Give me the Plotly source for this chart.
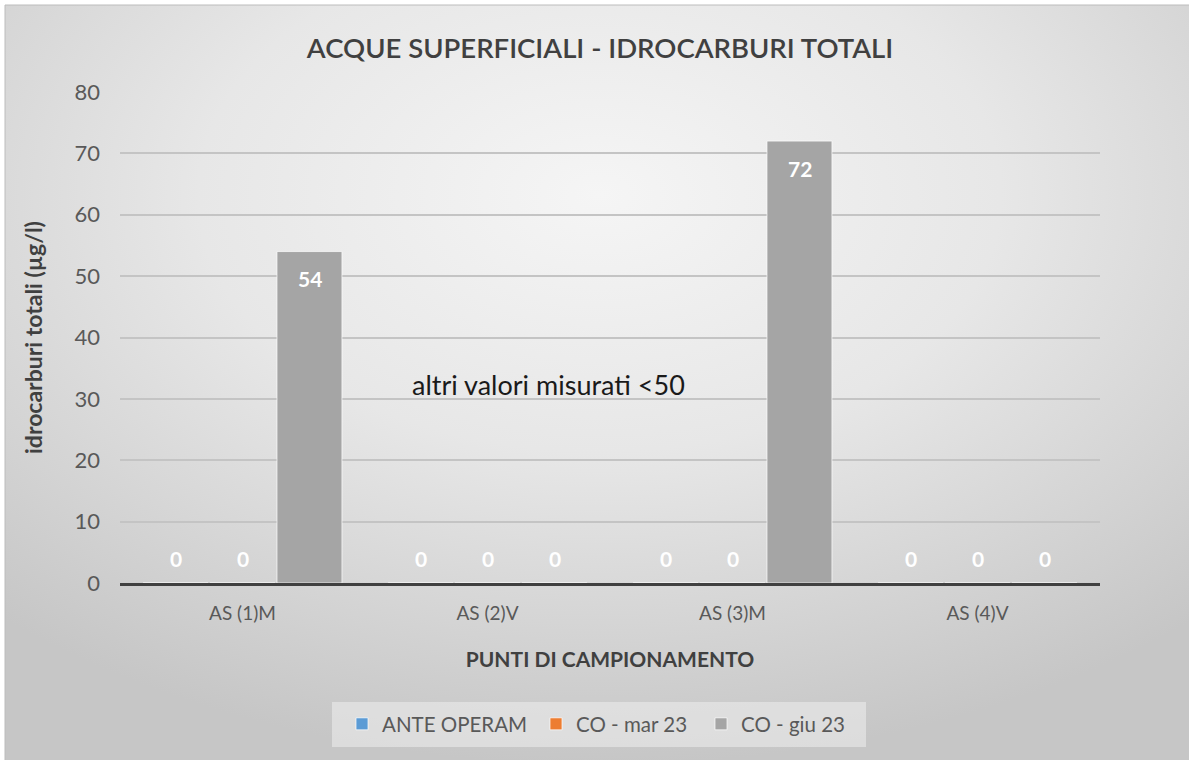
import plotly.graph_objects as go
import urllib.parse

categories = ["AS (1)M", "AS (2)V", "AS (3)M", "AS (4)V"]
series_names = ["ANTE OPERAM", "CO - mar 23", "CO - giu 23"]
ante_operam = [0, 0, 0, 0]
co_mar23 = [0, 0, 0, 0]
co_giu23 = [54, 0, 72, 0]
series_values = [ante_operam, co_mar23, co_giu23]
series_colors = ["#5b9bd5", "#ed7d31", "#a5a5a5"]
y_ticks = [0, 10, 20, 30, 40, 50, 60, 70, 80]

W, H = 1189, 760
L, R, T, B = 120, 89, 92, 177
pw, ph = W - L - R, H - T - B
FONT = "Lato"

legend_ids = ["legend", "legend2", "legend3"]
legend_left_px = [342, 536, 701]

fig = go.Figure()
for name, vals, col, lg in zip(series_names, series_values, series_colors, legend_ids):
    fig.add_trace(go.Bar(
        x=categories, y=vals, name=name, legend=lg,
        marker=dict(color=col, line=dict(color="rgba(255,255,255,0.7)", width=1)),
        hoverinfo="x+y+name",
    ))

# data labels (Excel style: inside end; zero values shown just above axis)
slot = 67
for i, vals in enumerate(series_values):
    for c, v in zip(categories, vals):
        fig.add_annotation(
            x=c, y=v, xref="x", yref="y", text=str(v), showarrow=False,
            xshift=(i - 1) * slot, yshift=(-27 if v > 0 else 25),
            font=dict(family=FONT, size=21, color="white", weight="bold"),
        )

fig.add_annotation(
    x=(410 - L) / pw, y=(583 - 384) / ph, xref="paper", yref="paper",
    xanchor="left", yanchor="middle", showarrow=False,
    text="altri valori misurati <50",
    font=dict(family=FONT, size=27, color="#1a1a1a"),
)

fig.add_annotation(
    x=(33 - L) / pw, y=(583 - 338) / ph, xref="paper", yref="paper",
    xanchor="center", yanchor="middle", showarrow=False, textangle=-90,
    text="idrocarburi totali (µg/l)",
    font=dict(family=FONT, size=23, color="#404040", weight="bold"),
)

# gradient background as svg
svg = ('<svg xmlns="http://www.w3.org/2000/svg" width="100" height="100" viewBox="0 0 100 100" preserveAspectRatio="none">'
       '<defs><radialGradient id="g" cx="50%" cy="25%" r="75%">'
       '<stop offset="0%" stop-color="#f5f5f5"/>'
       '<stop offset="45%" stop-color="#e7e7e7"/>'
       '<stop offset="100%" stop-color="#c6c6c6"/>'
       '</radialGradient></defs><rect width="100" height="100" fill="url(#g)"/></svg>')
src = "data:image/svg+xml;charset=utf-8," + urllib.parse.quote(svg)
fig.add_layout_image(
    source=src, xref="paper", yref="paper",
    x=(5 - L) / pw, y=(583 - 5) / ph,
    sizex=W / pw, sizey=H / ph,
    xanchor="left", yanchor="top", sizing="stretch", layer="below",
)
fig.add_shape(
    type="rect", xref="paper", yref="paper",
    x0=(5 - L) / pw, x1=(W + 10 - L) / pw,
    y0=(583 - H - 10) / ph, y1=(583 - 5) / ph,
    line=dict(color="#bcbcbc", width=1), fillcolor="rgba(0,0,0,0)", layer="below",
)
# legend box
fig.add_shape(
    type="rect", xref="paper", yref="paper",
    x0=(332 - L) / pw, x1=(866 - L) / pw,
    y0=(583 - 747) / ph, y1=(583 - 702) / ph,
    line=dict(width=0), fillcolor="rgba(238,238,238,0.55)", layer="below",
)

legend_common = dict(
    orientation="h", xref="container", y=1 - 724 / H, yref="container",
    xanchor="left", yanchor="middle", bgcolor="rgba(0,0,0,0)", borderwidth=0,
    font=dict(family=FONT, size=20.5, color="#595959"), itemwidth=30,
)

fig.update_layout(
    width=W, height=H,
    margin=dict(l=L, r=R, t=T, b=B, autoexpand=False),
    paper_bgcolor="white", plot_bgcolor="rgba(0,0,0,0)",
    barmode="group", bargap=0.18, bargroupgap=0.03,
    title=dict(
        text="ACQUE SUPERFICIALI - IDROCARBURI TOTALI",
        x=600 / W, y=1 - 48 / H, xanchor="center", yanchor="middle",
        font=dict(family=FONT, size=27.5, color="#404040", weight=600),
    ),
    showlegend=True,
    legend=dict(x=legend_left_px[0] / W, **legend_common),
    legend2=dict(x=legend_left_px[1] / W, **legend_common),
    legend3=dict(x=legend_left_px[2] / W, **legend_common),
    xaxis=dict(
        showline=True, linecolor="#404040", linewidth=3,
        tickfont=dict(family=FONT, size=19, color="#595959"),
        ticks="", ticklabelstandoff=11,
        title=dict(text="PUNTI DI CAMPIONAMENTO", standoff=30,
                   font=dict(family=FONT, size=21, color="#404040", weight="bold")),
        showgrid=False, fixedrange=True,
    ),
    yaxis=dict(
        range=[0, 80], tickvals=y_ticks, showgrid=True, gridcolor="#c4c4c4", gridwidth=1.5,
        zeroline=False, showline=False,
        tickfont=dict(family=FONT, size=22, color="#595959"),
        ticks="", ticklabelstandoff=19, fixedrange=True,
    ),
)

fig.write_html("out.html", config={"displayModeBar": False},
               post_script="document.body.style.margin='0px';")
